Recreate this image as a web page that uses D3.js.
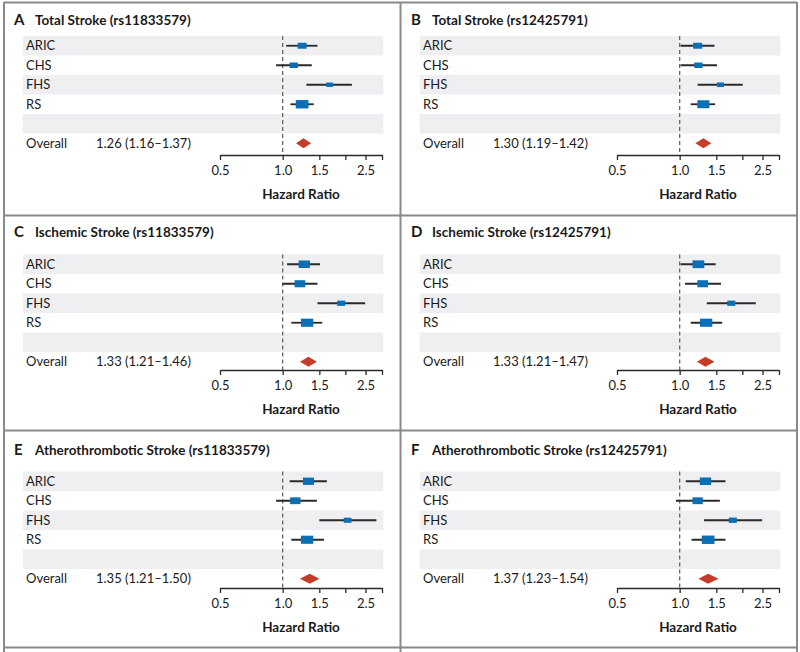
<!DOCTYPE html>
<html><head><meta charset="utf-8">
<script src="https://cdn.jsdelivr.net/npm/d3@7"></script>
<style>body{margin:0;background:#fff} svg{display:block} text{font-family:Lato,"Open Sans",sans-serif;fill:#1a1a1a}</style>
</head><body><svg id="chart" width="800" height="652"></svg>
<script>
// ---------- data ----------
const panelLetters = ["A","B","C","D","E","F"];
const panelTitles = [
  "Total Stroke (rs11833579)", "Total Stroke (rs12425791)",
  "Ischemic Stroke (rs11833579)", "Ischemic Stroke (rs12425791)",
  "Atherothrombotic Stroke (rs11833579)", "Atherothrombotic Stroke (rs12425791)"];
const studies = ["ARIC","CHS","FHS","RS"];
const studyHR = [
  [1.24,1.13,1.68,1.24],
  [1.22,1.23,1.57,1.30],
  [1.27,1.21,1.91,1.31],
  [1.23,1.29,1.77,1.34],
  [1.33,1.15,2.05,1.31],
  [1.33,1.22,1.80,1.37]];
const studyLow = [
  [1.04,0.93,1.30,1.09],
  [1.01,1.01,1.22,1.13],
  [1.05,1.00,1.47,1.10],
  [1.01,1.06,1.35,1.13],
  [1.08,0.93,1.50,1.10],
  [1.07,0.96,1.31,1.14]];
const studyHigh = [
  [1.47,1.38,2.15,1.41],
  [1.47,1.51,2.01,1.48],
  [1.51,1.47,2.49,1.55],
  [1.49,1.58,2.32,1.60],
  [1.63,1.46,2.82,1.58],
  [1.66,1.56,2.49,1.66]];
const studyWeight = [
  [81,69,45,161],
  [81,69,49,144],
  [128,114,64,151],
  [137,114,64,151],
  [121,106,59,151],
  [128,106,64,161]];
const overallHR   = [1.26,1.30,1.33,1.33,1.35,1.37];
const overallLow  = [1.16,1.19,1.21,1.21,1.21,1.23];
const overallHigh = [1.37,1.42,1.46,1.47,1.50,1.54];
const tickValues = [0.5,1.0,1.5,2.0,2.5,3.0];
const tickLabels = ["0.5","1.0","1.5","","2.5",""];
const overallLabel = "Overall";
const axisTitle = "Hazard Ratio";

// ---------- layout ----------
const colX = [0, 397];
const titleY = [25, 236.5, 455];
const bandTop = [36, 254.5, 471.5];
const axisY = [155, 370, 588];
const rowH = 19.5;
const BLUE = "#0b6fb6", RED = "#c33d29", BAND = "#efeff1", FRAME = "#8a8a8a";

const svg = d3.select("#chart");
const fmt = d3.format(".2f");
const boxW = d3.scaleSqrt().domain([0,160]).range([0,12.7]);

panelLetters.forEach((letter, p) => {
  const col = p % 2, row = Math.floor(p / 2);
  const ox = colX[col];
  const g = svg.append("g");
  const x = d3.scaleLog().domain([0.5,3]).range([ox+220, ox+382]);
  const top = bandTop[row];
  const cy = i => top + rowH*i + rowH/2;

  // bands
  [0,2,4].forEach(i => g.append("rect")
    .attr("x", ox+22.7).attr("y", top + rowH*i)
    .attr("width", 360.6).attr("height", rowH).attr("fill", BAND));

  // title
  g.append("text").attr("x", ox+14).attr("y", titleY[row])
    .attr("font-size", 15).attr("font-weight", 700).text(letter);
  g.append("text").attr("x", ox+35).attr("y", titleY[row])
    .attr("font-size", 13.5).attr("font-weight", 700).text(panelTitles[p]);

  // labels
  studies.forEach((s, i) => g.append("text")
    .attr("x", ox+26).attr("y", cy(i)+4.7).attr("font-size", 13).text(s));
  g.append("text").attr("x", ox+26).attr("y", cy(5)+4.7).attr("font-size", 13).text(overallLabel);
  g.append("text").attr("x", ox+96).attr("y", cy(5)+4.7).attr("font-size", 13)
    .text(`${fmt(overallHR[p])} (${fmt(overallLow[p])}\u2013${fmt(overallHigh[p])})`);

  // reference line
  g.append("line").attr("x1", x(1)).attr("x2", x(1))
    .attr("y1", top).attr("y2", axisY[row])
    .attr("stroke", "#666").attr("stroke-width", 1.3).attr("stroke-dasharray", "4,3");

  // CIs & boxes
  studies.forEach((s, i) => {
    g.append("line").attr("x1", x(studyLow[p][i])).attr("x2", x(studyHigh[p][i]))
      .attr("y1", cy(i)).attr("y2", cy(i)).attr("stroke", "#2a2a2a").attr("stroke-width", 1.8);
    const w = boxW(studyWeight[p][i]), h = w*0.66;
    g.append("rect").attr("x", x(studyHR[p][i]) - w/2).attr("y", cy(i) - h/2)
      .attr("width", w).attr("height", h).attr("fill", BLUE);
  });

  // overall diamond
  const yc = cy(5);
  g.append("polygon").attr("fill", RED).attr("points", [
    [x(overallLow[p]), yc], [x(overallHR[p]), yc-5],
    [x(overallHigh[p]), yc], [x(overallHR[p]), yc+5]].map(d=>d.join(",")).join(" "));

  // axis
  const ax = d3.axisBottom(x).tickValues(tickValues)
    .tickFormat((d,i) => tickLabels[i]).tickSize(5).tickSizeOuter(0).tickPadding(6);
  const axg = g.append("g").attr("transform", `translate(0,${axisY[row]})`).call(ax);
  axg.select(".domain").attr("stroke", "#2a2a2a").attr("stroke-width", 1.3);
  axg.selectAll(".tick line").attr("stroke", "#2a2a2a").attr("stroke-width", 1.3);
  axg.selectAll(".tick text").attr("font-size", 13).attr("fill", "#1a1a1a")
    .attr("font-family", "Lato, sans-serif");

  g.append("text").attr("x", (x.range()[0]+x.range()[1])/2).attr("y", axisY[row]+44)
    .attr("text-anchor", "middle").attr("font-size", 13.5).attr("font-weight", 700).text(axisTitle);
});

// frame
const fr = svg.append("g").attr("stroke", FRAME).attr("stroke-width", 2);
[4, 400.5, 797].forEach(xx => fr.append("line").attr("x1", xx).attr("x2", xx).attr("y1", 2).attr("y2", 652));
[2.5, 215.5, 430.5, 647.5].forEach(yy => fr.append("line").attr("x1", 4).attr("x2", 797).attr("y1", yy).attr("y2", yy));
</script></body></html>
